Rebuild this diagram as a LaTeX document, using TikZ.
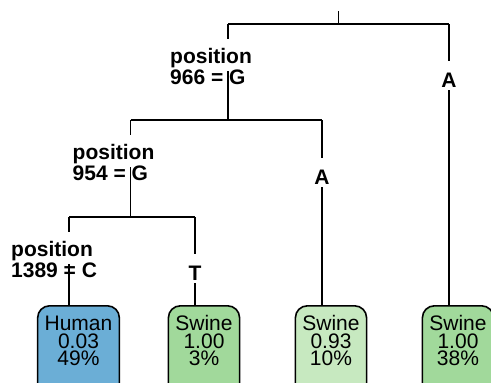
\documentclass[tikz,border=0pt]{standalone}
\usepackage{fontspec}
\setmainfont{Liberation Sans}
\definecolor{blueleaf}{HTML}{6BAED6}
\definecolor{greenleaf}{HTML}{A1D99B}
\definecolor{lightleaf}{HTML}{C7E9C0}
\begin{document}
\begin{tikzpicture}[x=1pt,y=-1pt,
  edge/.style={draw=black, line width=1.6pt},
  cond/.style={font=\fontsize{21}{21}\selectfont\bfseries, inner sep=0pt, anchor=base west},
  condbg/.style={cond, fill=white, text height=25pt, text depth=7pt},
  branch/.style={font=\fontsize{21}{21}\selectfont\bfseries, fill=white, inner xsep=2pt, inner ysep=0pt, text height=26pt, text depth=3pt, anchor=base},
  leaf/.style={draw=black, line width=1.6pt, rounded corners=12pt, align=center, anchor=north, inner xsep=7pt, inner ysep=0pt, minimum width=70pt, font=\fontsize{21}{17.5}\selectfont}]
\useasboundingbox (0,0) rectangle (491,383);
\clip (0,0) rectangle (491,383);
% split points
\coordinate (top) at (338.5,11);
\coordinate (s1) at (338.5,24);
\coordinate (s1L) at (228,24);
\coordinate (s1R) at (449,24);
\coordinate (s2) at (228,120);
\coordinate (s2L) at (130.5,120);
\coordinate (s2R) at (322,120);
\coordinate (s3) at (130.5,217);
\coordinate (s3L) at (69,217);
\coordinate (s3R) at (195,217);
% leaves
\node[leaf, fill=blueleaf] (L1) at (78.5,305) {\rule{0pt}{25pt}Human\\0.03\\49\%\rule[-40pt]{0pt}{0pt}};
\node[leaf, fill=greenleaf] (L2) at (204,305) {\rule{0pt}{25pt}Swine\\1.00\\3\%\rule[-40pt]{0pt}{0pt}};
\node[leaf, fill=lightleaf] (L3) at (331,305) {\rule{0pt}{25pt}Swine\\0.93\\10\%\rule[-40pt]{0pt}{0pt}};
\node[leaf, fill=greenleaf] (L4) at (458,305) {\rule{0pt}{25pt}Swine\\1.00\\38\%\rule[-40pt]{0pt}{0pt}};
% edges
\draw[edge] (top) -- (s1);
\draw[edge] (s1L) -- (s1R);
\draw[edge] (s1L) -- (s2);
\draw[edge] (s1R) -- (s1R |- L4.north);
\draw[edge] (s2L) -- (s2R);
\draw[edge] (s2L) -- (s3);
\draw[edge] (s2R) -- (s2R |- L3.north);
\draw[edge] (s3L) -- (s3R);
\draw[edge] (s3L) -- (s3L |- L1.north);
\draw[edge] (s3R) -- (s3R |- L2.north);
% split labels
\node[condbg] (p1) at (170,63.5) {position};
\node[cond] (v1) at (170,84) {966 = G};
\node[condbg] (p2) at (72.5,159.5) {position};
\node[cond] (v2) at (72.5,180) {954 = G};
\node[condbg] (p3) at (11,256.5) {position};
\node[cond] (v3) at (11,277) {1389 = C};
% branch labels
\node[branch] (b1) at (449,87) {A};
\node[branch] (b2) at (322,184) {A};
\node[branch] (b3) at (195,280) {T};
\end{tikzpicture}
\end{document}
